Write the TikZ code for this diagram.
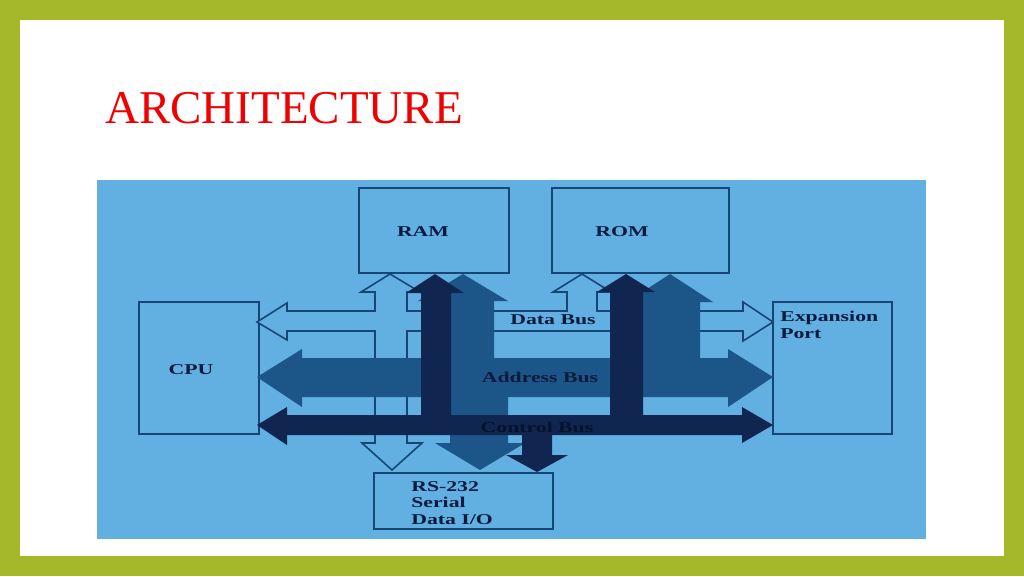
\documentclass[tikz,border=0pt]{standalone}
\usepackage{fontspec}
\setmainfont{Liberation Serif}
\definecolor{frameg}{RGB}{165,184,42}
\definecolor{bgblue}{RGB}{98,176,226}
\definecolor{lineb}{RGB}{22,70,118}
\definecolor{addrc}{RGB}{28,86,136}
\definecolor{ctrlc}{RGB}{16,38,80}
\definecolor{txtc}{RGB}{10,26,62}
\definecolor{ctxt}{RGB}{6,18,44}
\definecolor{titred}{RGB}{240,0,0}
\begin{document}
\begin{tikzpicture}[x=1pt,y=-1pt,
  boxst/.style={draw=lineb,line width=2pt,inner sep=0,minimum width=#1},
  lbl/.style={font=\fontsize{15}{16.5}\selectfont\bfseries,text=txtc,xscale=1.45,inner sep=0},
  hollow/.style={fill=bgblue,draw=lineb,line width=1.6pt,line join=miter},
  addrbus/.style={fill=addrc},
  ctrlbus/.style={fill=ctrlc}]
\useasboundingbox (0,0) rectangle (1024,576);
\fill[frameg] (0,0) rectangle (1024,576);
\fill[white] (20,20) rectangle (1004,556);
\fill[bgblue] (97,180) rectangle (926,539);
\node[anchor=base west,inner sep=0,text=titred,font=\fontsize{47}{50}\selectfont] (title) at (105,123) {ARCHITECTURE};
% boxes
\node[boxst=150,minimum height=85] (ram) at (434,230.5) {};
\node[boxst=177,minimum height=85] (rom) at (640.5,230.5) {};
\node[boxst=120,minimum height=132] (cpu) at (199,368) {};
\node[boxst=119,minimum height=132] (exp) at (832.5,368) {};
\node[boxst=179,minimum height=56] (rs) at (463.5,501) {};
% data bus (hollow)
\draw[hollow] (257,322) -- (287,303) -- (287,311) -- (375,311) -- (375,292) -- (361,292) -- (390,274) -- (420,292) -- (407,292) -- (407,311) -- (567,311) -- (567,292) -- (553,292) -- (582,274) -- (611,292) -- (597,292) -- (597,311) -- (743,311) -- (743,302) -- (773,322) -- (743,341) -- (743,331) -- (407,331) -- (407,443) -- (422,443) -- (392,470) -- (362,443) -- (375,443) -- (375,331) -- (287,331) -- (287,340) -- cycle;
% address bus
\fill[addrbus] (257,377) -- (302,349) -- (302,358) -- (436,358) -- (436,301) -- (418,301) -- (463,274) -- (508,301) -- (494,301) -- (494,358) -- (640,358) -- (640,302) -- (627,302) -- (670,274) -- (713,302) -- (700,302) -- (700,358) -- (728,358) -- (728,349) -- (773,377) -- (728,407) -- (728,397) -- (508,397) -- (508,443) -- (525,443) -- (480,470) -- (435,443) -- (450,443) -- (450,397) -- (302,397) -- (302,407) -- cycle;
% control bus
\fill[ctrlbus] (257,425) -- (287,407) -- (287,415) -- (421,415) -- (421,293) -- (406,293) -- (435,274) -- (464,293) -- (451,293) -- (451,415) -- (610,415) -- (610,292) -- (597,292) -- (626,274) -- (655,292) -- (643,292) -- (643,415) -- (742,415) -- (742,407) -- (773,425) -- (742,443) -- (742,435) -- (552,435) -- (552,455) -- (568,455) -- (537,472) -- (506,455) -- (522,455) -- (522,435) -- (287,435) -- (287,445) -- cycle;
% labels
\node[lbl] (ramt) at (423,232) {RAM};
\node[lbl] (romt) at (622,232) {ROM};
\node[lbl] (cput) at (191,370) {CPU};
\node[lbl,anchor=north west,align=left] (expt) at (780,311) {Expansion\\Port};
\node[lbl,anchor=north west,align=left] (rst) at (411,481) {RS-232\\Serial\\Data I/O};
\node[lbl] (dbt) at (553,320) {Data Bus};
\node[lbl] (abt) at (540,377) {Address Bus};
\node[lbl,text=ctxt] (cbt) at (537,427) {Control Bus};
\end{tikzpicture}
\end{document}
